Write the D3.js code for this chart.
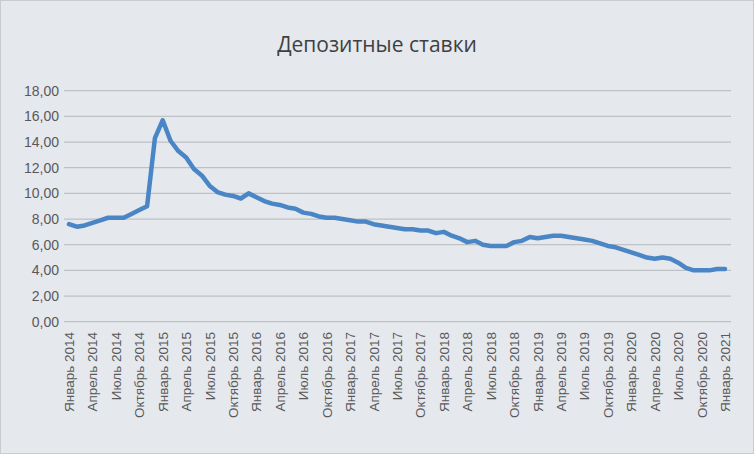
<!DOCTYPE html>
<html><head><meta charset="utf-8">
<script src="https://cdn.jsdelivr.net/npm/d3@7"></script>
<style>body{margin:0;background:#fff}svg{display:block}</style>
</head><body><svg id="c" width="754" height="454"></svg>
<script>
const months = ["Январь","Февраль","Март","Апрель","Май","Июнь","Июль","Август","Сентябрь","Октябрь","Ноябрь","Декабрь"];
const startYear = 2014;
const values = [
7.6,7.4,7.5,7.7,7.9,8.1,8.1,8.1,8.4,8.7,9.0,14.3,
15.7,14.1,13.3,12.8,11.9,11.4,10.6,10.1,9.9,9.8,9.6,10.0,
9.7,9.4,9.2,9.1,8.9,8.8,8.5,8.4,8.2,8.1,8.1,8.0,
7.9,7.8,7.8,7.6,7.5,7.4,7.3,7.2,7.2,7.1,7.1,6.9,
7.0,6.7,6.5,6.2,6.3,6.0,5.9,5.9,5.9,6.2,6.3,6.6,
6.5,6.6,6.7,6.7,6.6,6.5,6.4,6.3,6.1,5.9,5.8,5.6,
5.4,5.2,5.0,4.9,5.0,4.9,4.6,4.2,4.0,4.0,4.0,4.1,
4.1];
const labels = values.map((v,i)=>months[i%12]+" "+(startYear+Math.floor(i/12)));
const yTicks = [0,2,4,6,8,10,12,14,16,18];
const title = "Депозитные ставки";

const svg = d3.select("#c");
svg.append("rect").attr("x",0.5).attr("y",0.5).attr("width",753).attr("height",453)
  .attr("fill","#e5e8ed").attr("stroke","#c8cbd0");
svg.append("text").attr("x",377).attr("y",52).attr("text-anchor","middle")
  .attr("font-family","Open Sans, Liberation Sans, sans-serif").attr("font-size",21).attr("fill","#404040").text(title);

const x = d3.scaleLinear().domain([0,values.length-1]).range([69,725]);
const y = d3.scaleLinear().domain([0,18]).range([321.7,90.7]);
const ff = "Liberation Sans, Arial, sans-serif";

const g = svg.append("g");
g.selectAll("line.grid").data(yTicks).join("line")
  .attr("x1",64).attr("x2",731).attr("y1",d=>y(d)).attr("y2",d=>y(d))
  .attr("stroke","#bfc1c4").attr("stroke-width",1.3);
g.selectAll("text.yl").data(yTicks).join("text")
  .attr("x",59).attr("y",d=>y(d)+5).attr("text-anchor","end")
  .attr("font-family",ff).attr("font-size",14).attr("fill","#595959")
  .text(d=>d.toFixed(2).replace(".",","));

const tickIdx = d3.range(0,values.length,3);
g.selectAll("text.xl").data(tickIdx).join("text")
  .attr("transform",d=>`translate(${x(d)+5},332) rotate(-90)`)
  .attr("text-anchor","end")
  .attr("font-family",ff).attr("font-size",13.5).attr("fill","#595959")
  .text(d=>labels[d]);

const line = d3.line().x((d,i)=>x(i)).y(d=>y(d));
g.append("path").datum(values).attr("d",line).attr("fill","none")
  .attr("stroke","#4a86c5").attr("stroke-width",4.5).attr("stroke-linejoin","round").attr("stroke-linecap","round");
</script></body></html>
